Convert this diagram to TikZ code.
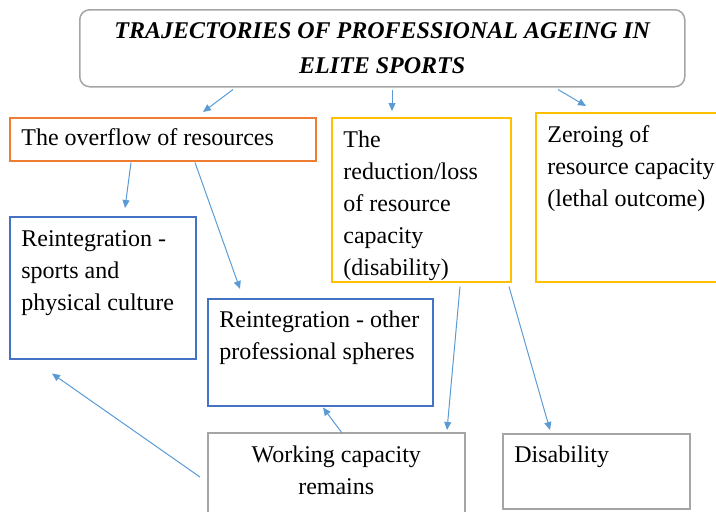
\documentclass[tikz,border=0pt]{standalone}
\usepackage{fontspec}
\setmainfont{Liberation Serif}
\usepackage{tikz}
\usetikzlibrary{positioning,arrows.meta,calc}
\usepackage{xcolor}
\definecolor{boxorange}{HTML}{ED7D31}
\definecolor{boxyellow}{HTML}{FFC000}
\definecolor{boxblue}{HTML}{4472C4}
\definecolor{boxgray}{HTML}{A5A5A5}
\definecolor{arrowblue}{HTML}{5B9BD5}

\begin{document}
\begin{tikzpicture}[
    x=0.5pt, y=-0.5pt,
    box/.style={draw=#1, line width=0.75pt, anchor=north west, inner sep=0pt},
    box/.default={boxgray},
    txt/.style={font=\fontsize{12}{16}\selectfont, align=#1, inner sep=0pt, anchor=north west},
    txt/.default={left},
    arr/.style={-{Triangle[length=4pt,width=3.5pt]}, line width=0.5pt, arrowblue},
]
\useasboundingbox (0,0) rectangle (716,511);

% ===== HEADER =====
\node[box=boxgray, rounded corners=5pt, minimum width=302.5pt, minimum height=38.5pt] (title) at (79,9) {};
\node[txt=center, anchor=center, font=\fontsize{12}{17.5}\selectfont\bfseries\itshape] (titletxt) at (title.center)
    {TRAJECTORIES OF PROFESSIONAL AGEING IN\\ELITE SPORTS};

% ===== TRAJECTORIES =====
\node[box=boxorange, minimum width=153pt, minimum height=21.5pt] (overflow) at (9,117) {};
\node[txt] (overflowtxt) at ($(overflow.north west)+(12,11)$) {The overflow of resources};

\node[box=boxyellow, minimum width=89.5pt, minimum height=82pt] (reduction) at (331,117) {};
\node[txt] (reductiontxt) at ($(reduction.north west)+(12,13)$) {The\\reduction/loss\\of resource\\capacity\\(disability)};

\node[box=boxyellow, minimum width=115pt, minimum height=84.5pt] (zeroing) at (535,112) {};
\node[txt] (zeroingtxt) at ($(zeroing.north west)+(12,13)$) {Zeroing of\\resource capacity\\(lethal outcome)};

% ===== OUTCOMES =====
\node[box=boxblue, minimum width=93pt, minimum height=71pt] (sportsre) at (9,216) {};
\node[txt] (sportsretxt) at ($(sportsre.north west)+(12,14)$) {Reintegration -\\sports and\\physical culture};

\node[box=boxblue, minimum width=112.5pt, minimum height=53.5pt] (otherre) at (207,298) {};
\node[txt] (otherretxt) at ($(otherre.north west)+(12,12)$) {Reintegration - other\\professional spheres};

\node[box=boxgray, minimum width=128.5pt, minimum height=55pt] (working) at (207,432) {};
\node[txt=center, anchor=north] (workingtxt) at ($(working.north)+(0,13)$) {Working capacity\\remains};

\node[box=boxgray, minimum width=93.5pt, minimum height=37.5pt] (disability) at (502,433) {};
\node[txt] (disabilitytxt) at ($(disability.north west)+(12,12)$) {Disability};

% ===== ARROWS =====
\draw[arr] ($(title.south west)+(154,2)$) -- ($(overflow.north west)+(194,-5)$);
\draw[arr] ($(title.south west)+(313,2)$) -- ($(reduction.north west)+(61,-6)$);
\draw[arr] ($(title.south west)+(479,2)$) -- ($(zeroing.north west)+(51,-6)$);
\draw[arr] ($(overflow.south west)+(122,1)$) -- ($(sportsre.north west)+(116,-8)$);
\draw[arr] ($(overflow.south west)+(186,1)$) -- ($(otherre.north west)+(33,-9)$);
\draw[arr] ($(reduction.south west)+(129,4)$) -- ($(working.north west)+(240,-2)$);
\draw[arr] ($(reduction.south west)+(178,4)$) -- ($(disability.north west)+(48,-3)$);
\draw[arr] ($(working.north west)+(135,1)$) -- ($(otherre.south west)+(116,1)$);
\draw[arr] ($(working.north west)+(-7,45)$) -- ($(sportsre.south west)+(43,14)$);

\end{tikzpicture}
\end{document}
